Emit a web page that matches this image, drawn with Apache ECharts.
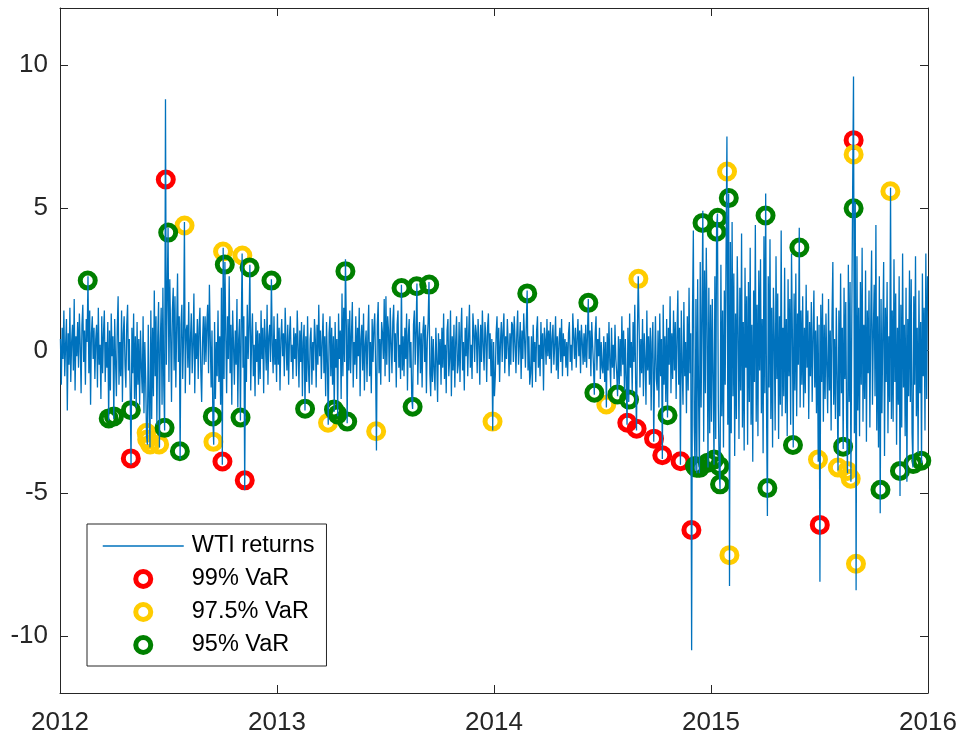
<!DOCTYPE html>
<html>
<head>
<meta charset="utf-8">
<script src="https://cdn.jsdelivr.net/npm/echarts@6/dist/echarts.min.js"></script>
<style>
    html, body { margin: 0; padding: 0; background: #fff; }
    #chart { width: 962px; height: 739px; }
</style>
</head>
<body>
<div id="chart"></div>
<script>
// daily WTI returns (%), one row per month
const r2012 = [
    [0.4,-1.2,0.8,-0.3,1.4,-0.9,0.2,1.1,-2.1,0.6,-0.5,1.5,-1.1,0.3,0.9,-0.7,1.8,-1.4,0.5,-0.2,1.0],
    [-0.6,1.3,0.2,-1.5,0.9,1.6,-0.4,0.7,-1.2,1.1,0.3,2.6,-0.8,1.4,-1.9,0.6,1.2,-0.3,0.8,-1.0,0.4],
    [0.9,-1.3,1.5,-0.5,0.2,-1.7,1.2,-0.8,0.6,1.4,-1.1,0.3,-0.6,1.0,-2.45,0.7,-1.4,1.3,-0.2,0.5,-2.4],
    [1.1,-0.4,-1.6,0.8,1.9,-1.2,0.3,-0.9,1.4,-1.8,0.6,1.2,-0.5,-1.3,0.9,1.6,-0.7,0.4,-1.5,-4.0,0.8],
    [-0.8,1.3,-1.7,0.5,-2.0,1.0,-1.2,0.4,-1.9,0.7,-0.6,-1.5,1.2,-2.2,0.3,-1.0,-3.0,-3.3,0.9,-1.8,-3.4],
    [1.4,-2.4,0.8,-1.6,2.1,-0.9,1.2,-2.6,0.5,1.7,-3.4,0.3,1.5,-1.9,2.2,-1.2,-2.8,8.8,-0.5,1.9,4.3],
    [-1.1,2.5,0.6,-1.8,1.4,2.2,-0.7,1.9,-1.3,0.8,2.7,-0.4,1.2,-3.8,0.9,1.6,-1.0,0.5,4.5,-1.5,0.7],
    [0.9,-0.6,1.7,-1.2,0.4,1.3,-0.8,0.2,2.0,-1.5,0.6,-0.3,1.1,-1.0,0.8,1.5,-0.7,-1.8,0.3,1.2,-0.5],
    [1.2,-0.4,0.9,1.6,-0.8,2.3,0.4,-1.3,0.7,-2.4,-3.3,1.0,-1.7,0.3,-0.9,1.4,-1.1,0.5,-1.9,2.2,-4.0],
    [3.6,-1.0,3.1,0.6,-1.5,1.2,-0.3,2.6,-0.8,0.9,-1.9,1.4,0.2,-1.2,0.7,-0.5,1.8,-2.0,0.4,1.1,-2.45],
    [0.8,3.4,-0.6,1.2,-4.9,0.5,-1.1,1.6,-0.3,0.9,3.0,-1.4,0.4,1.3,-0.9,0.2,-1.6,1.0,-0.4,0.7,-1.2],
    [0.6,-1.0,1.4,-0.3,0.8,-1.5,1.1,0.3,-0.7,1.6,-1.2,0.5,0.9,-0.4,2.5,0.2,-0.8,1.2,-0.5,0.4,-1.1]
]
const r2013 = [
    [1.3,-0.5,0.8,-1.4,0.4,1.1,-0.2,0.6,-0.9,1.5,0.3,-0.7,0.9,-1.2,0.5,1.2,-0.4,0.2,-1.0,0.8,-0.3],
    [0.6,-0.9,1.4,0.2,-1.3,0.7,-0.4,1.0,-1.6,0.3,0.9,-2.1,0.5,-1.1,1.2,-0.6,-1.5,0.4,0.8,-1.2,0.3],
    [-0.7,1.1,0.4,-1.3,0.9,-0.5,1.6,-0.2,0.7,-1.0,0.3,1.3,-0.8,0.5,-1.6,1.0,-0.4,-2.6,0.6,1.2,-0.9],
    [0.8,-1.2,0.5,-2.15,1.0,-0.6,0.4,-2.3,1.3,-0.3,0.7,-1.7,2.0,-0.9,1.5,-0.4,3.2,0.9,-2.55,1.1,-0.7],
    [1.4,-0.8,0.6,1.7,-1.3,0.3,-0.5,1.2,-1.0,0.8,-0.2,1.5,-1.6,0.4,0.9,-0.7,1.3,-1.4,0.2,0.7,-1.1],
    [0.5,1.6,-0.9,0.3,-1.5,1.1,-0.4,0.8,1.3,-0.6,-3.5,0.9,1.7,-0.8,0.4,-1.2,1.0,0.6,-0.3,1.8,-0.9],
    [1.9,-0.5,1.2,0.7,-1.1,1.5,0.3,-0.8,1.0,1.6,-0.4,0.6,-1.3,0.9,1.4,-0.6,0.2,-1.0,2.3,-0.7,0.5],
    [-0.9,0.8,-0.3,1.3,-1.4,0.5,1.1,-0.6,0.3,-1.7,-2.05,0.9,1.4,-0.5,0.7,2.35,-1.2,0.4,1.0,-0.8,0.6],
    [-1.3,0.7,1.2,-0.4,0.9,-1.5,0.3,1.0,2.4,-0.8,-1.6,0.5,-1.1,0.4,-0.7,-1.4,0.8,-0.3,-1.8,0.6,-0.5],
    [0.4,-1.2,0.8,-0.6,1.3,-1.0,0.2,-1.5,0.7,1.1,-0.9,-0.3,1.4,-1.6,0.5,-0.7,0.9,-1.3,0.3,1.2,-0.8],
    [-0.5,1.0,-1.1,0.6,1.5,-0.7,0.3,-1.4,0.8,-0.2,1.2,-0.9,0.5,1.6,-0.6,0.2,-1.0,1.3,0.7,-0.4,0.9],
    [0.6,-0.8,1.1,0.3,-1.2,0.9,-0.4,1.4,0.2,-0.7,1.0,0.5,-1.1,0.8,1.3,-0.3,0.6,-0.9,0.4,-2.8,0.3]
]
const r2014 = [
    [-1.6,-0.9,0.6,1.2,-0.5,0.8,-1.1,0.3,1.0,-0.4,0.7,1.3,-0.8,0.5,-0.3,1.1,0.2,-0.9,0.6,-0.5,1.0],
    [0.9,-0.4,1.2,0.3,-0.8,0.6,1.4,-0.5,0.2,1.0,-1.0,0.7,-0.3,1.3,0.4,-0.6,0.9,2.1,-0.7,0.5,-1.2],
    [-0.8,0.5,-1.3,0.9,-0.4,0.3,-1.1,0.7,1.2,-0.6,0.2,-0.9,1.0,-0.3,0.6,-1.4,0.8,0.4,-0.5,1.1,-0.2],
    [0.7,-0.3,1.0,-0.8,0.4,0.9,-0.5,0.2,1.2,-0.7,0.5,-1.0,0.3,0.8,-0.4,1.1,-0.9,0.6,-0.2,0.4,-0.6],
    [0.3,-0.9,0.6,1.0,-0.4,0.2,-0.7,1.3,0.5,-0.3,0.8,-0.6,0.4,1.1,-0.2,0.7,-0.8,0.9,0.3,-0.5,0.6],
    [-0.4,0.9,-0.6,0.5,1.8,-0.3,0.7,-0.9,1.0,0.2,-0.5,-1.55,0.6,1.2,-0.7,0.4,-0.2,0.8,-1.0,0.3,-0.6],
    [-0.8,0.5,-1.1,0.3,-2.0,0.6,-0.7,1.0,-0.4,-1.3,0.8,-0.6,0.2,-1.0,0.9,-0.3,-0.8,-1.6,0.5,-1.2,0.4],
    [-0.9,1.2,-0.5,0.7,-1.4,0.4,-1.0,-2.6,0.8,-1.8,1.3,-0.6,0.3,-1.5,1.0,-0.4,1.6,-1.1,-2.8,0.5,2.6],
    [0.9,-1.3,0.4,-0.8,1.1,-1.6,0.6,-0.3,-1.9,1.4,-0.7,0.5,-1.2,0.8,-2.1,0.3,1.0,-3.2,-0.6,1.2,-1.0],
    [-1.4,0.7,-2.0,1.3,-0.9,0.4,-3.8,1.6,-1.2,0.5,-1.8,1.1,-2.35,0.8,-0.5,1.9,-1.5,0.6,-1.0,1.4,-0.7],
    [1.0,-1.7,0.5,2.1,-1.2,0.8,-4.0,1.4,-0.6,-1.9,1.7,-0.9,0.3,-2.2,1.2,-1.4,2.2,-0.8,0.6,-10.5,1.3],
    [4.2,-2.6,-4.2,1.8,-4.3,2.5,-1.4,-4.3,3.1,-2.0,1.2,4.9,-3.2,2.8,-1.5,3.6,0.9,-4.1,2.2,-2.9,1.6]
]
const r2015 = [
    [-2.5,1.8,-1.0,-4.0,2.6,-3.1,4.3,4.8,-1.9,-4.2,-4.85,3.0,-2.3,1.4,-3.4,2.1,-1.2,3.5,7.5,-2.6,5.5],
    [-8.25,3.8,-2.9,4.5,-1.6,2.7,-3.7,1.3,-2.4,3.3,0.8,-3.1,2.2,-1.4,4.1,-2.7,1.0,-3.5,2.9,-0.6,1.9],
    [-3.3,2.4,-1.8,3.6,-2.6,0.9,-3.9,2.1,-1.1,4.4,-2.5,1.6,-3.0,2.8,-0.7,3.2,-2.2,1.1,-3.6,4.0,-1.5],
    [5.5,-2.1,-5.8,2.6,-1.3,3.9,-2.4,1.5,-3.4,2.2,0.4,-2.8,3.3,-1.0,2.0,-3.1,1.2,-1.9,4.2,-2.3,0.8],
    [-1.6,2.9,-2.2,1.1,-3.0,2.5,-0.9,1.8,-2.6,3.4,0.6,-3.4,2.0,-1.4,2.7,-2.3,1.3,-0.5,4.3,-2.0,1.4],
    [-1.2,1.9,-2.0,0.8,-1.5,2.3,-0.6,1.4,-2.4,1.0,-0.9,1.7,-1.8,0.5,2.1,-1.3,0.7,-2.2,1.2,-3.9,0.9],
    [-8.1,1.6,-1.1,2.0,-2.5,0.9,-1.7,1.3,-0.6,-2.2,1.8,-1.4,0.7,-2.8,1.1,3.1,-1.9,0.4,-2.4,1.5,-1.0],
    [-4.2,1.4,-2.3,2.7,-1.5,0.8,-3.45,2.2,-1.0,1.7,-2.6,-4.3,3.0,-1.8,2.4,-4.6,1.2,5.6,9.6,-2.9,5.2],
    [-8.4,3.3,-2.1,1.5,-3.0,2.4,-1.2,3.6,-2.5,0.9,-1.7,2.8,-3.2,1.4,-0.8,2.1,-2.7,1.0,3.5,-1.9,0.6],
    [2.3,-1.6,4.4,-2.8,1.2,-3.4,2.6,-5.7,1.8,-2.2,0.7,3.1,-3.7,1.5,-1.1,2.4,-2.9,0.5,-1.8,5.7,-2.4],
    [1.4,-2.5,3.2,-1.1,2.0,-3.3,0.8,-1.9,2.6,-5.1,1.6,-2.7,3.4,-1.3,0.9,-3.0,2.2,-4.6,1.1,-1.6,2.8],
    [-1.8,2.5,-2.9,-4.1,1.9,-1.2,3.3,-2.3,0.8,-3.6,2.1,-1.5,1.0,-3.95,2.7,-0.9,1.5,-2.8,3.4,-1.7,2.6]
]
const years = [2012, 2013, 2014, 2015]
const returnsByYear = [r2012, r2013, r2014, r2015]

// VaR violations: date, VaR level
const var99 = [
    ['2012-04-28', -3.78], ['2012-06-26', 5.99], ['2012-09-30', -3.89], ['2012-11-07', -4.55],
    ['2014-08-12', -2.53], ['2014-08-28', -2.74], ['2014-09-26', -3.09], ['2014-10-10', -3.67],
    ['2014-11-10', -3.88], ['2014-11-28', -6.29], ['2015-07-01', -6.11], ['2015-08-28', 7.37]
]
const var975 = [
    ['2012-05-25', -2.88], ['2012-05-26', -3.12], ['2012-05-31', -3.29], ['2012-06-15', -3.29],
    ['2012-07-28', 4.38], ['2012-09-15', -3.2], ['2012-10-01', 3.47], ['2012-11-03', 3.33],
    ['2013-03-26', -2.53], ['2013-06-15', -2.83], ['2013-12-29', -2.49],
    ['2014-07-07', -1.89], ['2014-08-31', 2.51],
    ['2015-01-28', 6.27], ['2015-02-01', -7.17], ['2015-06-28', -3.82], ['2015-08-01', -4.10],
    ['2015-08-17', -4.22], ['2015-08-23', -4.49], ['2015-08-28', 6.87], ['2015-09-01', -7.47],
    ['2015-10-29', 5.58]
]
const var95 = [
    ['2012-02-16', 2.45], ['2012-03-22', -2.38], ['2012-03-31', -2.31], ['2012-04-28', -2.09],
    ['2012-06-24', -2.71], ['2012-06-30', 4.13], ['2012-07-20', -3.53], ['2012-09-14', -2.31],
    ['2012-10-04', 3.01], ['2012-10-31', -2.35], ['2012-11-15', 2.91], ['2012-12-22', 2.45],
    ['2013-02-16', -2.04], ['2013-04-05', -2.07], ['2013-04-11', -2.24], ['2013-04-24', 2.78],
    ['2013-04-27', -2.49], ['2013-07-28', 2.19], ['2013-08-16', -1.97], ['2013-08-23', 2.25],
    ['2013-09-13', 2.31],
    ['2014-02-24', 2.0], ['2014-06-07', 1.67], ['2014-06-17', -1.48], ['2014-07-26', -1.54],
    ['2014-08-15', -1.72], ['2014-10-19', -2.27], ['2014-12-04', -4.05], ['2014-12-07', -4.11],
    ['2014-12-12', -4.11], ['2014-12-17', 4.47], ['2014-12-26', -3.93],
    ['2015-01-06', -3.82], ['2015-01-10', 4.16], ['2015-01-12', 4.65], ['2015-01-15', -4.05],
    ['2015-01-16', -4.69], ['2015-01-31', 5.34], ['2015-04-01', 4.73], ['2015-04-04', -4.82],
    ['2015-05-17', -3.31], ['2015-05-28', 3.61], ['2015-08-10', -3.37], ['2015-08-28', 4.98],
    ['2015-10-12', -4.88], ['2015-11-14', -4.22], ['2015-12-06', -3.98], ['2015-12-20', -3.86]
]
const yTicks = [-10, -5, 0, 5, 10]

// date string -> fractional year
function dateX(s) {
    const [y, m, d] = s.split('-').map(Number)
    const days = new Date(Date.UTC(y, m, 0)).getUTCDate()
    return y + (m - 1 + (d - 0.5) / days) / 12
}

const lineData = []
years.forEach((y, i) => {
    returnsByYear[i].forEach((vals, m) => {
        vals.forEach((v, k) => {
            lineData.push([y + (m + (k + 0.5) / vals.length) / 12, v])
        })
    })
})
const toPoints = arr => arr.map(p => [dateX(p[0]), p[1]])

const axisColor = '#262626'
const font = 'Liberation Sans'

function ring(name, color, data) {
    return {
        name: name,
        type: 'scatter',
        data: toPoints(data),
        symbol: 'circle',
        symbolSize: 15,
        itemStyle: { color: 'rgba(0,0,0,0)', borderColor: color, borderWidth: 5, opacity: 1 },
        emphasis: { disabled: true }
    }
}

const option = {
    animation: false,
    textStyle: { fontFamily: font },
    grid: { left: 60, right: 34, top: 8, bottom: 46 },
    legend: {
        orient: 'vertical',
        left: 87,
        top: 524,
        padding: [10, 12, 9, 15],
        itemWidth: 81,
        itemHeight: 15,
        itemGap: 9,
        backgroundColor: '#fff',
        borderColor: axisColor,
        borderWidth: 1,
        textStyle: { fontSize: 23.5, color: '#000', fontFamily: font, padding: [0, 0, 0, 3] },
        data: [
            { name: 'WTI returns', lineStyle: { width: 1.5 }, itemStyle: { color: 'rgba(0,0,0,0)', borderWidth: 0, opacity: 0 } },
            { name: '99% VaR', itemStyle: { borderWidth: 5, opacity: 1 } },
            { name: '97.5% VaR', itemStyle: { borderWidth: 5, opacity: 1 } },
            { name: '95% VaR', itemStyle: { borderWidth: 5, opacity: 1 } }
        ]
    },
    xAxis: [
        {
            type: 'value', min: 2012, max: 2016, interval: 1, position: 'bottom',
            axisLine: { show: true, onZero: false, lineStyle: { color: axisColor, width: 1 } },
            axisTick: { show: true, inside: true, length: 8, lineStyle: { color: axisColor } },
            axisLabel: { fontSize: 26, color: axisColor, margin: 17, fontFamily: font, formatter: v => String(v) },
            splitLine: { show: false }
        },
        {
            type: 'value', min: 2012, max: 2016, interval: 1, position: 'top',
            axisLine: { show: true, onZero: false, lineStyle: { color: axisColor, width: 1 } },
            axisTick: { show: true, inside: true, length: 8, lineStyle: { color: axisColor } },
            axisLabel: { show: false },
            splitLine: { show: false }
        }
    ],
    yAxis: [
        {
            type: 'value', min: -12, max: 12, position: 'left',
            axisLine: { show: true, onZero: false, lineStyle: { color: axisColor, width: 1 } },
            axisTick: { show: true, inside: true, length: 8, customValues: yTicks, lineStyle: { color: axisColor } },
            axisLabel: { fontSize: 26, color: axisColor, margin: 12, fontFamily: font, customValues: yTicks },
            splitLine: { show: false }
        },
        {
            type: 'value', min: -12, max: 12, position: 'right',
            axisLine: { show: true, onZero: false, lineStyle: { color: axisColor, width: 1 } },
            axisTick: { show: true, inside: true, length: 8, customValues: yTicks, lineStyle: { color: axisColor } },
            axisLabel: { show: false },
            splitLine: { show: false }
        }
    ],
    series: [
        {
            name: 'WTI returns',
            type: 'line',
            data: lineData,
            symbol: 'none',
            showSymbol: false,
            lineStyle: { color: '#0072BD', width: 1.3 },
            itemStyle: { color: '#0072BD' },
            emphasis: { disabled: true }
        },
        ring('99% VaR', '#FF0000', var99),
        ring('97.5% VaR', '#FFCC00', var975),
        ring('95% VaR', '#008000', var95)
    ]
}

const myChart = echarts.init(document.getElementById('chart'))
myChart.setOption(option)
</script>
</body>
</html>
